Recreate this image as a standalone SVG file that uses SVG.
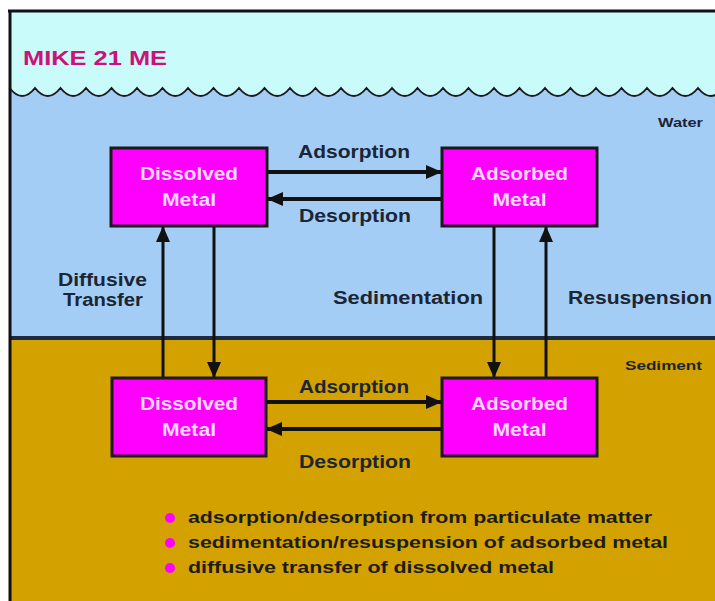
<svg xmlns="http://www.w3.org/2000/svg" width="715" height="601" viewBox="0 0 715 601">
<style>
.lbl{font-family:"Liberation Sans",Arial,sans-serif;font-weight:bold;fill:#1c2533;font-size:18px}
.small{font-family:"Liberation Sans",Arial,sans-serif;font-weight:bold;fill:#1c2533;font-size:13px}
.node rect{fill:#ff00ff;stroke:#1a1a1a;stroke-width:3}
.node text{font-family:"Liberation Sans",Arial,sans-serif;font-weight:bold;fill:#ffd8ff;font-size:18px;text-anchor:middle}
.h{stroke:#111;stroke-width:4;fill:none}
.v{stroke:#111;stroke-width:3;fill:none}
.leg{font-family:"Liberation Sans",Arial,sans-serif;font-weight:bold;fill:#1c1c1c;font-size:17px}
</style>
<defs>
<marker id="ah" markerUnits="userSpaceOnUse" markerWidth="16" markerHeight="14" refX="16" refY="7" orient="auto">
<path d="M0 0 L16 7 L0 14 Z" fill="#111"/>
</marker>
</defs>
<rect x="0" y="0" width="715" height="601" fill="#ffffff"/>
<rect x="10" y="11" width="705" height="590" fill="#c9fbfb"/>
<path d="M9.5 88 q12.75 16 25.5 0 12.75 16 25.5 0 12.75 16 25.5 0 12.75 16 25.5 0 12.75 16 25.5 0 12.75 16 25.5 0 12.75 16 25.5 0 12.75 16 25.5 0 12.75 16 25.5 0 12.75 16 25.5 0 12.75 16 25.5 0 12.75 16 25.5 0 12.75 16 25.5 0 12.75 16 25.5 0 12.75 16 25.5 0 12.75 16 25.5 0 12.75 16 25.5 0 12.75 16 25.5 0 12.75 16 25.5 0 12.75 16 25.5 0 12.75 16 25.5 0 12.75 16 25.5 0 12.75 16 25.5 0 12.75 16 25.5 0 12.75 16 25.5 0 12.75 16 25.5 0 12.75 16 25.5 0 12.75 16 25.5 0 L724 338 L9.5 338 Z" fill="#a4cdf6"/>
<path d="M9.5 88 q12.75 16 25.5 0 12.75 16 25.5 0 12.75 16 25.5 0 12.75 16 25.5 0 12.75 16 25.5 0 12.75 16 25.5 0 12.75 16 25.5 0 12.75 16 25.5 0 12.75 16 25.5 0 12.75 16 25.5 0 12.75 16 25.5 0 12.75 16 25.5 0 12.75 16 25.5 0 12.75 16 25.5 0 12.75 16 25.5 0 12.75 16 25.5 0 12.75 16 25.5 0 12.75 16 25.5 0 12.75 16 25.5 0 12.75 16 25.5 0 12.75 16 25.5 0 12.75 16 25.5 0 12.75 16 25.5 0 12.75 16 25.5 0 12.75 16 25.5 0 12.75 16 25.5 0 12.75 16 25.5 0 12.75 16 25.5 0" fill="none" stroke="#1a1a1a" stroke-width="2"/>
<rect x="10" y="338" width="705" height="263" fill="#d3a100"/>
<line x1="10" y1="338" x2="715" y2="338" stroke="#1e2a40" stroke-width="4"/>
<line x1="8" y1="11" x2="715" y2="11" stroke="#111" stroke-width="3"/>
<line x1="10" y1="10" x2="10" y2="601" stroke="#111" stroke-width="3"/>

<text x="23" y="65" font-family="'Liberation Sans',Arial,sans-serif" font-weight="bold" font-size="21" fill="#cc1177" textLength="144" lengthAdjust="spacingAndGlyphs">MIKE 21 ME</text>
<text class="small" x="658" y="127" textLength="45" lengthAdjust="spacingAndGlyphs">Water</text>
<text class="small" x="625" y="370" textLength="77" lengthAdjust="spacingAndGlyphs">Sediment</text>

<g id="connectors">
<line class="h" x1="267" y1="172" x2="442" y2="172" marker-end="url(#ah)"/>
<line class="h" x1="442" y1="199" x2="267" y2="199" marker-end="url(#ah)"/>
<line class="h" x1="266" y1="402" x2="442" y2="402" marker-end="url(#ah)"/>
<line class="h" x1="442" y1="429" x2="266" y2="429" marker-end="url(#ah)"/>
<line class="v" x1="163" y1="378" x2="163" y2="226" marker-end="url(#ah)"/>
<line class="v" x1="214" y1="226" x2="214" y2="378" marker-end="url(#ah)"/>
<line class="v" x1="494" y1="226" x2="494" y2="378" marker-end="url(#ah)"/>
<line class="v" x1="546" y1="378" x2="546" y2="226" marker-end="url(#ah)"/>
<text class="lbl" x="354" y="158" text-anchor="middle" textLength="112" lengthAdjust="spacingAndGlyphs">Adsorption</text>
<text class="lbl" x="355" y="222" text-anchor="middle" textLength="112" lengthAdjust="spacingAndGlyphs">Desorption</text>
<text class="lbl" x="354" y="393" text-anchor="middle" textLength="110" lengthAdjust="spacingAndGlyphs">Adsorption</text>
<text class="lbl" x="355" y="468" text-anchor="middle" textLength="112" lengthAdjust="spacingAndGlyphs">Desorption</text>
<text class="lbl" x="58" y="286" textLength="89" lengthAdjust="spacingAndGlyphs">Diffusive</text>
<text class="lbl" x="63" y="306" textLength="80" lengthAdjust="spacingAndGlyphs">Transfer</text>
<text class="lbl" x="333" y="304" textLength="150" lengthAdjust="spacingAndGlyphs">Sedimentation</text>
<text class="lbl" x="568" y="304" textLength="144" lengthAdjust="spacingAndGlyphs">Resuspension</text>
</g>

<g id="water-dissolved" class="node">
<rect x="111" y="148" width="156" height="78"/>
<text x="189" y="180" textLength="98" lengthAdjust="spacingAndGlyphs">Dissolved</text>
<text x="189" y="206" textLength="54" lengthAdjust="spacingAndGlyphs">Metal</text>
</g>
<g id="water-adsorbed" class="node">
<rect x="442" y="148" width="155" height="78"/>
<text x="519.5" y="180" textLength="97" lengthAdjust="spacingAndGlyphs">Adsorbed</text>
<text x="519.5" y="206" textLength="54" lengthAdjust="spacingAndGlyphs">Metal</text>
</g>
<g id="sediment-dissolved" class="node">
<rect x="112" y="378" width="154" height="78"/>
<text x="189" y="410" textLength="98" lengthAdjust="spacingAndGlyphs">Dissolved</text>
<text x="189" y="436" textLength="54" lengthAdjust="spacingAndGlyphs">Metal</text>
</g>
<g id="sediment-adsorbed" class="node">
<rect x="442" y="378" width="155" height="78"/>
<text x="519.5" y="410" textLength="97" lengthAdjust="spacingAndGlyphs">Adsorbed</text>
<text x="519.5" y="436" textLength="54" lengthAdjust="spacingAndGlyphs">Metal</text>
</g>

<g id="legend">
<circle cx="170" cy="518" r="5" fill="#ff00ff"/>
<circle cx="170" cy="543" r="5" fill="#ff00ff"/>
<circle cx="170" cy="568" r="5" fill="#ff00ff"/>
<text class="leg" x="188" y="523" textLength="464" lengthAdjust="spacingAndGlyphs">adsorption/desorption from particulate matter</text>
<text class="leg" x="188" y="548" textLength="480" lengthAdjust="spacingAndGlyphs">sedimentation/resuspension of adsorbed metal</text>
<text class="leg" x="188" y="573" textLength="366" lengthAdjust="spacingAndGlyphs">diffusive transfer of dissolved metal</text>
</g>
</svg>
